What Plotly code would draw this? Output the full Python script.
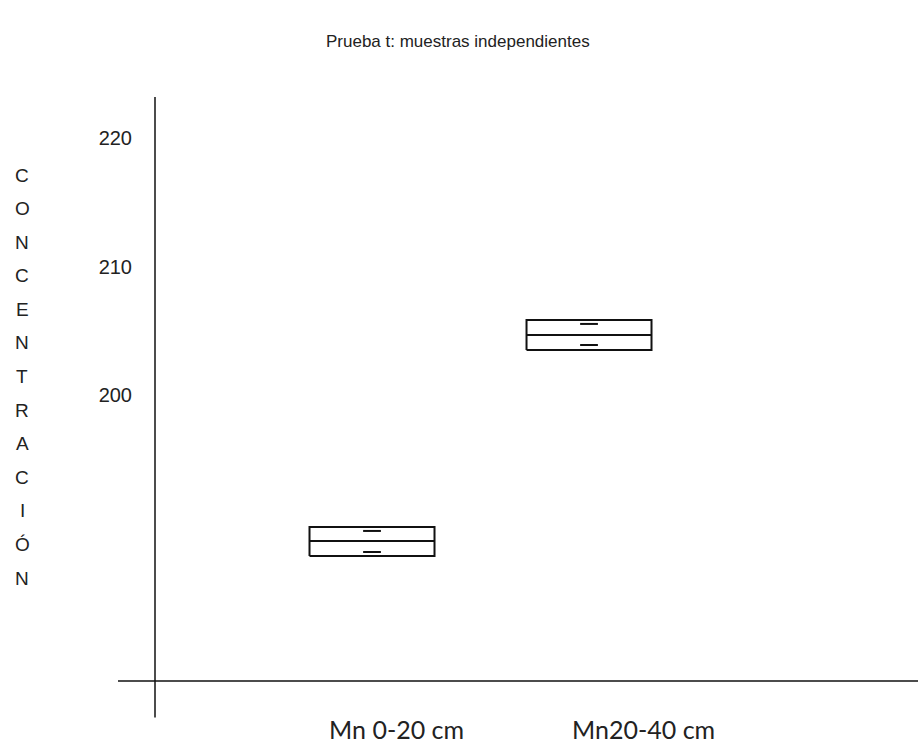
import plotly.graph_objects as go

# Groups and summary values (concentration)
grupos = ["Mn 0-20 cm", "Mn20-40 cm"]
media = [188.64, 204.67]
lim_inf = [187.47, 203.50]
lim_sup = [189.73, 205.84]
marca_inf = [187.78, 203.89]
marca_sup = [189.42, 205.53]

ticks_y = [200, 210, 220]
titulo = "Prueba t: muestras independientes"
etiqueta_y = "CONCENTRACIÓN"

posiciones = [1, 2]
media_caja = 0.288
media_marca = 0.041

# plot area starts where the vertical axis is drawn
IZQ = 155
ANCHO = 918 - IZQ
ALTO = 744

fig = go.Figure()
linea = dict(color="#111111", width=2)

for c, m, lo, hi, mi, ms in zip(posiciones, media, lim_inf, lim_sup, marca_inf, marca_sup):
    # box outline
    fig.add_trace(go.Scatter(
        x=[c - media_caja, c + media_caja, c + media_caja, c - media_caja, c - media_caja],
        y=[lo, lo, hi, hi, lo], mode="lines", line=linea, hoverinfo="skip"))
    # mean line
    fig.add_trace(go.Scatter(x=[c - media_caja, c + media_caja], y=[m, m],
                             mode="lines", line=linea, hoverinfo="skip"))
    # inner marks
    for v in (mi, ms):
        fig.add_trace(go.Scatter(x=[c - media_marca, c + media_marca], y=[v, v],
                                 mode="lines", line=linea, hoverinfo="skip"))

# axis lines crossing each other
fig.add_shape(type="line", xref="paper", yref="y", x0=0, x1=0, y0=223.2, y1=174.9,
              line=dict(color="#111111", width=1.5))
fig.add_shape(type="line", xref="paper", yref="y", x0=(118 - IZQ) / ANCHO, x1=1,
              y0=177.74, y1=177.74, line=dict(color="#111111", width=1.5))

# category labels
for xc, g in zip([396, 643], grupos):
    fig.add_annotation(x=(xc - IZQ) / ANCHO, xref="paper", y=1 - 729 / ALTO, yref="paper",
                       text=g, showarrow=False,
                       font=dict(family="Lato", size=25, color="#222222"),
                       xanchor="center", yanchor="middle")

# title
fig.add_annotation(x=(458 - IZQ) / ANCHO, xref="paper", y=1 - 42 / ALTO, yref="paper",
                   text=titulo, showarrow=False,
                   font=dict(family="Liberation Sans", size=17, color="#222222"),
                   xanchor="center", yanchor="middle")

# vertical axis title, one letter per line
for i, letra in enumerate(etiqueta_y):
    fig.add_annotation(x=(22 - IZQ) / ANCHO, xref="paper", y=1 - (175 + 33.6 * i) / ALTO,
                       yref="paper", text=letra, showarrow=False,
                       font=dict(family="Liberation Sans", size=19, color="#222222"),
                       xanchor="center", yanchor="middle")

fig.update_layout(
    width=918, height=744,
    margin=dict(l=IZQ, r=0, t=0, b=0),
    paper_bgcolor="white", plot_bgcolor="white",
    showlegend=False,
    xaxis=dict(range=[0, 3.516], visible=False),
    yaxis=dict(range=[172.84, 230.74], tickvals=ticks_y, showgrid=False, zeroline=False,
               showline=False, ticks="", ticklabelstandoff=22,
               tickfont=dict(family="Liberation Sans", size=20, color="#222222")),
)

fig.write_html("out.html")
